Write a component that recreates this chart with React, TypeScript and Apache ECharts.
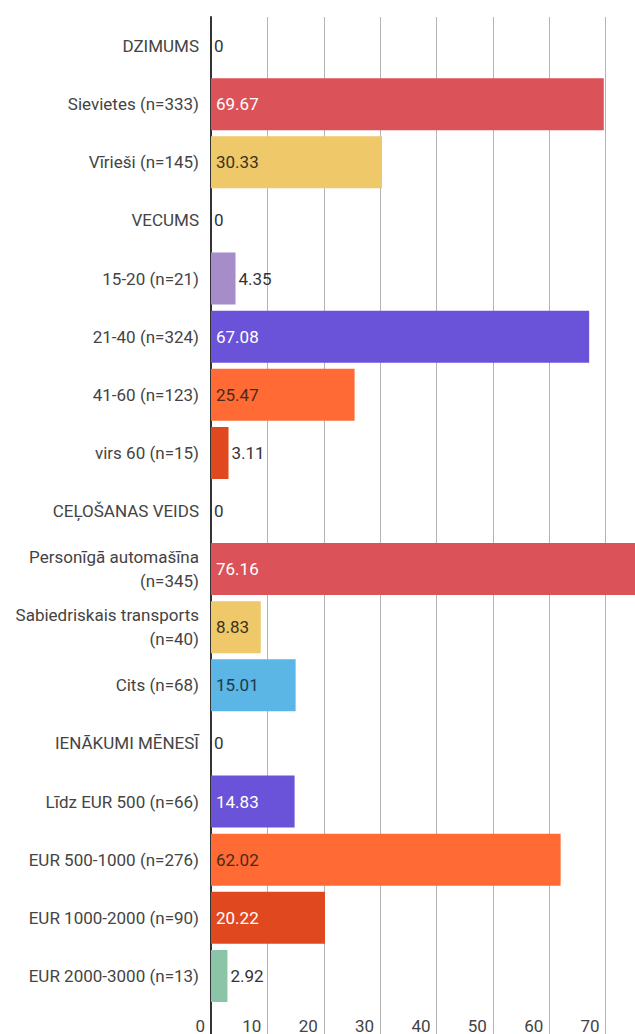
import React, { useEffect, useRef } from "react";
import * as echarts from "echarts";

const categories: string[] = [
  "DZIMUMS",
  "Sievietes (n=333)",
  "Vīrieši (n=145)",
  "VECUMS",
  "15-20 (n=21)",
  "21-40 (n=324)",
  "41-60 (n=123)",
  "virs 60 (n=15)",
  "CEĻOŠANAS VEIDS",
  "Personīgā automašīna\n(n=345)",
  "Sabiedriskais transports\n(n=40)",
  "Cits (n=68)",
  "IENĀKUMI MĒNESĪ",
  "Līdz EUR 500 (n=66)",
  "EUR 500-1000 (n=276)",
  "EUR 1000-2000 (n=90)",
  "EUR 2000-3000 (n=13)",
];

const values: number[] = [
  0, 69.67, 30.33, 0, 4.35, 67.08, 25.47, 3.11, 0, 76.16, 8.83, 15.01, 0, 14.83,
  62.02, 20.22, 2.92,
];

const barColors: string[] = [
  "#999999",
  "#db5259",
  "#eec869",
  "#999999",
  "#a68cc9",
  "#6b53d9",
  "#ff6a35",
  "#e0491f",
  "#999999",
  "#db5259",
  "#eec869",
  "#5bb5e5",
  "#999999",
  "#6b53d9",
  "#ff6a35",
  "#e0491f",
  "#8cc4a7",
];

const labelColors: string[] = [
  "#333333",
  "#ffffff",
  "#3a3320",
  "#333333",
  "#333333",
  "#ffffff",
  "#4a2a18",
  "#333333",
  "#333333",
  "#ffffff",
  "#3a3320",
  "#1f3a4a",
  "#333333",
  "#ffffff",
  "#4a2a18",
  "#ffffff",
  "#333333",
];

const xMin = 0;
const xMax = 80;
const xInterval = 10;

export default function App() {
  const ref = useRef<HTMLDivElement>(null);

  useEffect(() => {
    if (!ref.current) return;
    const chart = echarts.init(ref.current, undefined, { renderer: "svg" });
    const font = "Roboto, 'Noto Sans', sans-serif";
    const gridLeft = 211;
    const gridWidth = 451;

    const data = values.map((v, i) => ({
      value: v,
      itemStyle: { color: barColors[i] },
      label: {
        position: v < 6 ? "right" : "insideLeft",
        distance: v < 6 ? 3 : 5,
        color: v < 6 ? "#333333" : labelColors[i],
      },
    }));

    chart.setOption({
      animation: false,
      backgroundColor: "#ffffff",
      grid: [
        { left: gridLeft, top: 17, width: gridWidth, height: 988 },
        { left: gridLeft, top: 1005, width: gridWidth, height: 55 },
      ],
      xAxis: [
        {
          type: "value",
          gridIndex: 0,
          min: xMin,
          max: xMax,
          interval: xInterval,
          axisLine: { show: false },
          axisTick: { show: false },
          axisLabel: { show: false },
          splitLine: { show: true, lineStyle: { color: "#b4b4b4", width: 1 } },
        },
        {
          type: "value",
          gridIndex: 1,
          min: xMin,
          max: xMax,
          interval: xInterval,
          axisLine: { show: false },
          axisTick: { show: false },
          axisLabel: {
            show: true,
            inside: true,
            margin: 26,
            align: "right",
            padding: [0, 6, 0, 0],
            color: "#444444",
            fontFamily: font,
            fontSize: 17,
            showMaxLabel: false,
          },
          splitLine: { show: true, lineStyle: { color: "#b4b4b4", width: 1 } },
        },
      ],
      yAxis: [
        {
          type: "category",
          gridIndex: 0,
          inverse: true,
          data: categories,
          axisLine: { show: true, onZero: false, lineStyle: { color: "#333333", width: 2 } },
          axisTick: { show: false },
          axisLabel: {
            color: "#444444",
            fontFamily: font,
            fontSize: 17,
            margin: 12,
            align: "right",
            lineHeight: 24,
          },
        },
        {
          type: "category",
          gridIndex: 1,
          data: [""],
          axisLine: { show: true, onZero: false, lineStyle: { color: "#333333", width: 2 } },
          axisTick: { show: false },
          axisLabel: { show: false },
        },
      ],
      series: [
        {
          type: "bar",
          xAxisIndex: 0,
          yAxisIndex: 0,
          data,
          barWidth: 52,
          label: {
            show: true,
            fontFamily: font,
            fontSize: 17,
            formatter: (p: any) => String(p.value),
          },
        },
      ],
    });

    return () => chart.dispose();
  }, []);

  return (
    <div
      style={{
        position: "absolute",
        left: 0,
        top: 0,
        width: 635,
        height: 1034,
        overflow: "hidden",
        background: "#ffffff",
      }}
    >
      <div ref={ref} style={{ width: 680, height: 1060 }} />
    </div>
  );
}
